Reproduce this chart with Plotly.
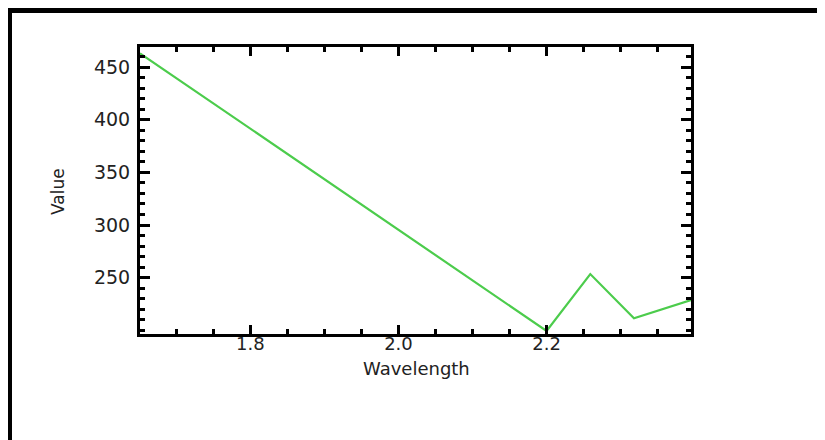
import plotly.graph_objects as go

# Data
wavelength = [1.651, 2.200, 2.259, 2.318, 2.395]
value = [463.0, 199.5, 253.5, 211.5, 228.8]

x_tickvals = [1.8, 2.0, 2.2]
x_ticktext = ["1.8", "2.0", "2.2"]
y_tickvals = [250, 300, 350, 400, 450]
y_ticktext = ["250", "300", "350", "400", "450"]

OFF = 8  # browser body margin
W, H = 825 - OFF, 440 - OFF
L, R, T, B = 140 - OFF, 691 - OFF, 47 - OFF, 334 - OFF  # plot area in figure pixels


def px(xp):
    return (xp - OFF - L) / (R - L)


def py(yp):
    return (B - (yp - OFF)) / (B - T)


fig = go.Figure()
fig.add_trace(go.Scatter(
    x=wavelength, y=value, mode="lines",
    line=dict(color="#4ccc4c", width=2.2),
    showlegend=False, cliponaxis=True,
))

font = dict(family="DejaVu Sans", size=19, color="#222222")
xfont = dict(family="DejaVu Sans", size=18, color="#222222")

fig.update_layout(
    width=W, height=H,
    margin=dict(l=L, r=W - R, t=T, b=H - B, pad=0),
    paper_bgcolor="white", plot_bgcolor="white",
    font=font,
    xaxis=dict(
        range=[1.651, 2.395],
        tickmode="array", tickvals=x_tickvals, ticktext=x_ticktext,
        ticks="inside", ticklen=9, tickwidth=3, tickcolor="black",
        showline=True, linecolor="black", linewidth=3, mirror="allticks",
        showgrid=False, zeroline=False,
        minor=dict(tick0=0, dtick=0.05, ticks="inside", ticklen=5, tickwidth=3,
                   tickcolor="black", showgrid=False),
        ticklabelstandoff=-9,
        tickfont=xfont,
    ),
    yaxis=dict(
        range=[196.6, 469.0],
        tickmode="array", tickvals=y_tickvals, ticktext=y_ticktext,
        ticks="inside", ticklen=10, tickwidth=3, tickcolor="black",
        showline=True, linecolor="black", linewidth=3, mirror="allticks",
        showgrid=False, zeroline=False,
        minor=dict(tick0=0, dtick=10, ticks="inside", ticklen=5, tickwidth=3,
                   tickcolor="black", showgrid=False),
        ticklabelstandoff=3,
        tickfont=font,
    ),
    annotations=[
        dict(text="Wavelength", xref="paper", yref="paper",
             x=px(416), y=py(368), xanchor="center", yanchor="middle",
             showarrow=False, font=dict(family="DejaVu Sans", size=18, color="#222222")),
        dict(text="Value", xref="paper", yref="paper",
             x=px(58), y=py(192), xanchor="center", yanchor="middle", textangle=-90,
             showarrow=False, font=dict(family="DejaVu Sans", size=17, color="#222222")),
    ],
    shapes=[
        # outer black frame (top and left edges visible)
        dict(type="rect", xref="paper", yref="paper",
             x0=px(7), x1=px(840), y0=py(13), y1=py(8),
             fillcolor="black", line=dict(width=0), layer="above"),
        dict(type="rect", xref="paper", yref="paper",
             x0=px(7), x1=px(12), y0=py(460), y1=py(8),
             fillcolor="black", line=dict(width=0), layer="above"),
    ],
)

fig.write_html("out.html")
